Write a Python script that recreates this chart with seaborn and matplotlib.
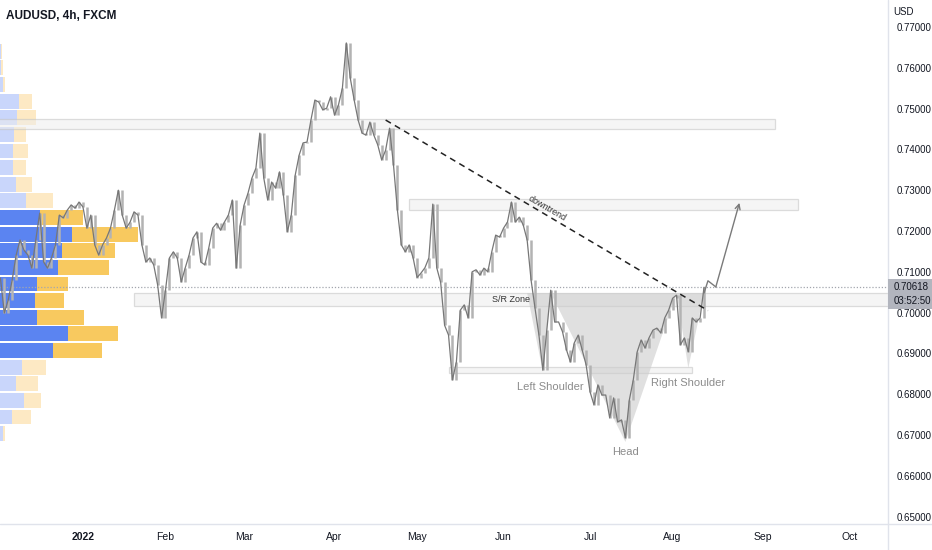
import matplotlib
matplotlib.use("Agg")
import numpy as np
import pandas as pd
import matplotlib.pyplot as plt
import seaborn as sns
from matplotlib.patches import Rectangle
from matplotlib.lines import Line2D

# ---------------- data ----------------
symbol_title = "AUDUSD, 4h, FXCM"
first_date = "2021-12-03"
close = [
    0.7085, 0.6999, 0.7031, 0.7080, 0.7141, 0.7178, 0.7153, 0.7141, 0.7109, 0.7178,
    0.7244, 0.7124, 0.7109, 0.7134, 0.7166, 0.7239, 0.7232, 0.7251, 0.7264, 0.7256,
    0.7271,
    0.7259, 0.7207, 0.7239, 0.7166, 0.7141, 0.7166, 0.7183, 0.7207, 0.7251, 0.7300,
    0.7239, 0.7207, 0.7222, 0.7247, 0.7239, 0.7166, 0.7124, 0.7134, 0.7117, 0.7068,
    0.6987, 0.7055, 0.7134, 0.7149, 0.7134, 0.7075, 0.7109, 0.7141, 0.7183, 0.7198,
    0.7124, 0.7117, 0.7158, 0.7207, 0.7219, 0.7202, 0.7222, 0.7239, 0.7276, 0.7109,
    0.7215, 0.7264, 0.7293, 0.7330, 0.7354, 0.7440, 0.7330, 0.7276, 0.7320, 0.7305,
    0.7345, 0.7288, 0.7198, 0.7239, 0.7337, 0.7386, 0.7416, 0.7418, 0.7472, 0.7521,
    0.7516, 0.7497, 0.7501, 0.7529, 0.7484, 0.7509, 0.7550, 0.7661, 0.7575, 0.7521,
    0.7472, 0.7440, 0.7435, 0.7467, 0.7435, 0.7411, 0.7374, 0.7398, 0.7452, 0.7362,
    0.7251, 0.7166, 0.7149, 0.7166, 0.7134, 0.7086, 0.7097, 0.7110, 0.7134, 0.7266,
    0.7110, 0.7074, 0.6969, 0.6945, 0.6835, 0.6879, 0.7006, 0.7019, 0.6987, 0.7100,
    0.7105, 0.7092, 0.7109, 0.7100, 0.7149, 0.7190, 0.7185, 0.7207, 0.7222, 0.7271,
    0.7222, 0.7234, 0.7215, 0.7178, 0.7080, 0.7011, 0.6945, 0.6859, 0.6957, 0.7055,
    0.6977, 0.6977, 0.6953, 0.6909, 0.6879, 0.6926, 0.6945, 0.6909, 0.6872, 0.6806,
    0.6774, 0.6823, 0.6798, 0.6798, 0.6742, 0.6791, 0.6732, 0.6737, 0.6693, 0.6786,
    0.6835, 0.6904, 0.6933, 0.6913, 0.6938, 0.6957, 0.6962, 0.6950, 0.6987, 0.7006,
    0.7035, 0.7043, 0.6921, 0.6938, 0.6904, 0.6987, 0.6977, 0.6987, 0.7062,
]
current_price = 0.70618
countdown = "03:52:50"

price_ticks = [0.65, 0.66, 0.67, 0.68, 0.69, 0.70, 0.71, 0.72, 0.73, 0.74, 0.75, 0.76, 0.77]
month_starts = ["2022-01-03", "2022-02-01", "2022-03-01", "2022-04-01", "2022-05-02",
                "2022-06-01", "2022-07-01", "2022-08-01", "2022-09-01", "2022-10-03"]
month_labels = ["2022", "Feb", "Mar", "Apr", "May", "Jun", "Jul", "Aug", "Sep", "Oct"]

# volume profile (rows listed top -> bottom)
vp_high = 0.7661
vp_low = 0.6683
vp_up = [0.5, 1, 3, 19, 17, 14, 13, 13, 16, 26, 40, 72, 62, 58, 37, 35, 37, 68, 53, 22, 16, 24, 12, 3]
vp_down = [1.5, 1.5, 2, 13, 19, 12, 15, 13, 16, 27, 43, 66, 53, 51, 31, 29, 47, 50, 49, 24, 22, 17, 19, 2]
vp_value_area = [False] * 10 + [True] * 9 + [False] * 5

# zones: (start, end, low, high)
zone_starts = ["2021-11-29", "2022-04-28", "2022-01-20", "2022-05-12"]
zone_ends = ["2022-09-06", "2022-09-14", "2022-12-30", "2022-08-08"]
zone_lows = [0.7450, 0.7252, 0.7016, 0.6852]
zone_highs = [0.7475, 0.7279, 0.7048, 0.6867]

trend_dates = ["2022-04-20", "2022-08-12"]
trend_prices = [0.7472, 0.7005]

hs_dates = ["2022-06-09", "2022-06-15", "2022-06-17", "2022-07-14", "2022-08-02", "2022-08-05", "2022-08-11"]
hs_prices = [0.7048, 0.6855, 0.7048, 0.6683, 0.7048, 0.6864, 0.7048]

arrow_dates = ["2022-08-11", "2022-08-12", "2022-08-16", "2022-08-24"]
arrow_prices = [0.7048, 0.7078, 0.7063, 0.7269]

label_texts = ["Left Shoulder", "Head", "Right Shoulder"]
label_dates = ["2022-06-17", "2022-07-14", "2022-08-05"]
label_prices = [0.6818, 0.6658, 0.6827]

sr_text, sr_date, sr_price = "S/R Zone", "2022-06-03", 0.7031
dt_text, dt_date, dt_price = "downtrend", "2022-06-16", 0.7256

# ---------------- figure ----------------
sns.set_theme(style="white")
plt.rcParams["font.family"] = ["Liberation Sans", "DejaVu Sans"]

W, H = 932, 550
fig = plt.figure(figsize=(W / 100, H / 100), dpi=100)
fig.patch.set_facecolor("white")
ax = fig.add_axes([0, 1 - 524 / H, 888 / W, 524 / H])
ax_vp = ax.twiny()
ax.set_zorder(ax_vp.get_zorder() + 1)
ax.patch.set_visible(False)

all_days = pd.bdate_range("2021-11-01", "2022-12-30")


def xp(d):
    return all_days.get_indexer(pd.to_datetime(d))


dates = pd.bdate_range(first_date, periods=len(close))
x_close = all_days.get_indexer(dates)
jan3 = xp(["2022-01-03"])[0]

# volume profile
n = len(vp_up)
edges = np.linspace(vp_low, vp_high, n + 1)
centers = ((edges[:-1] + edges[1:]) / 2)[::-1]
rowh = (vp_high - vp_low) / n
up = np.array(vp_up)
dn = np.array(vp_down)
blue = ["#5b84f1" if v else "#c9d6fb" for v in vp_value_area]
yell = ["#f8c95f" if v else "#fde9c4" for v in vp_value_area]
ax_vp.barh(centers, up, height=rowh * 0.9, color=blue, linewidth=0)
ax_vp.barh(centers, dn, left=up, height=rowh * 0.9, color=yell, linewidth=0)
ax_vp.set_xlim(0, (up + dn).max() / 0.1555)
ax_vp.axis("off")

# zones
for s, e, lo, hi in zip(zone_starts, zone_ends, zone_lows, zone_highs):
    xs, xe = xp([s, e])
    ax.add_patch(Rectangle((xs, lo), xe - xs, hi - lo, facecolor="#ededed", alpha=0.55,
                           edgecolor="#c2c2c2", lw=0.9, zorder=2))

# current price dotted line
ax.axhline(current_price, color="#a3a6ae", lw=0.9, ls=(0, (1, 1.5)), zorder=1)

# head & shoulders fill
hx = xp(hs_dates)
ax.fill(hx, hs_prices, color="#cccccc", alpha=0.6, lw=0, zorder=3)

# price: candle-like bodies (open = previous close) + connecting line
c = np.array(close)
opens = np.r_[c[0], c[:-1]]
ax.vlines(x_close, np.minimum(opens, c), np.maximum(opens, c), color="#b3b3b3", lw=1.8, zorder=4)
sns.lineplot(x=x_close, y=close, ax=ax, color="#777777", lw=0.9, estimator=None,
             sort=False, zorder=5)

# downtrend
tx = xp(trend_dates)
ax.plot(tx, trend_prices, color="#222222", lw=1.1, dashes=(4, 3), zorder=6)

# projection arrow
axx = xp(arrow_dates)
ax.plot(axx[:-1], arrow_prices[:-1], color="#7a7a7a", lw=1.0, zorder=6)
ax.annotate("", xy=(axx[-1], arrow_prices[-1]), xytext=(axx[-2], arrow_prices[-2]),
            arrowprops=dict(arrowstyle="->", color="#7a7a7a", lw=1.0, shrinkA=0, shrinkB=0,
                            mutation_scale=9), zorder=6)

# labels
for t, d, p in zip(label_texts, label_dates, label_prices):
    ax.text(xp([d])[0], p, t, ha="center", va="center", fontsize=8, color="#8c8c8c", zorder=7)
ax.text(xp([sr_date])[0], sr_price, sr_text, ha="center", va="center", fontsize=6.5,
        color="#333333", zorder=7)
ax.text(xp([dt_date])[0], dt_price, dt_text, ha="center", va="center", fontsize=6.5,
        color="#333333", rotation=-30, zorder=7)

# axes
ax.set_xlim(jan3 - 21.1, jan3 + 204.8)
ax.set_ylim(0.64819, 0.77662)
ax_vp.set_ylim(0.64819, 0.77662)
for sp in ax.spines.values():
    sp.set_visible(False)
ax.yaxis.tick_right()
ax.set_yticks(price_ticks)
ax.set_yticklabels([f"{v:.5f}" for v in price_ticks])
ax.set_xticks(xp(month_starts))
ax.set_xticklabels(month_labels)
ax.get_xticklabels()[0].set_fontweight("bold")
ax.tick_params(axis="y", length=0, pad=6, labelsize=7, labelcolor="#131722")
ax.tick_params(axis="x", length=0, pad=6, labelsize=7.5, labelcolor="#131722")
ax.grid(False)
ax.set_xlabel("")
ax.set_ylabel("")

# frame lines
fig.add_artist(Line2D([0, 1], [1 - 524 / H] * 2, transform=fig.transFigure, color="#e0e3eb", lw=1))
fig.add_artist(Line2D([888 / W] * 2, [0, 1], transform=fig.transFigure, color="#e0e3eb", lw=1))

# price tag
fig.add_artist(Rectangle((888 / W, 1 - 309 / H), 44 / W, 30 / H, transform=fig.transFigure,
                         facecolor="#b2b5be", edgecolor="none", zorder=3))
fig.text(894 / W, 1 - 287 / H, f"{current_price:.5f}", fontsize=7, va="center",
         color="#131722", zorder=4)
fig.text(894 / W, 1 - 301 / H, countdown, fontsize=7, va="center", color="#131722", zorder=4)
fig.text(893 / W, 1 - 12 / H, "USD", fontsize=7, va="center", color="#131722")
fig.text(6 / W, 1 - 16 / H, symbol_title, fontsize=8.5, fontweight="bold", va="center",
         color="#131722")

fig.savefig("out.png", dpi=100, facecolor="white")
